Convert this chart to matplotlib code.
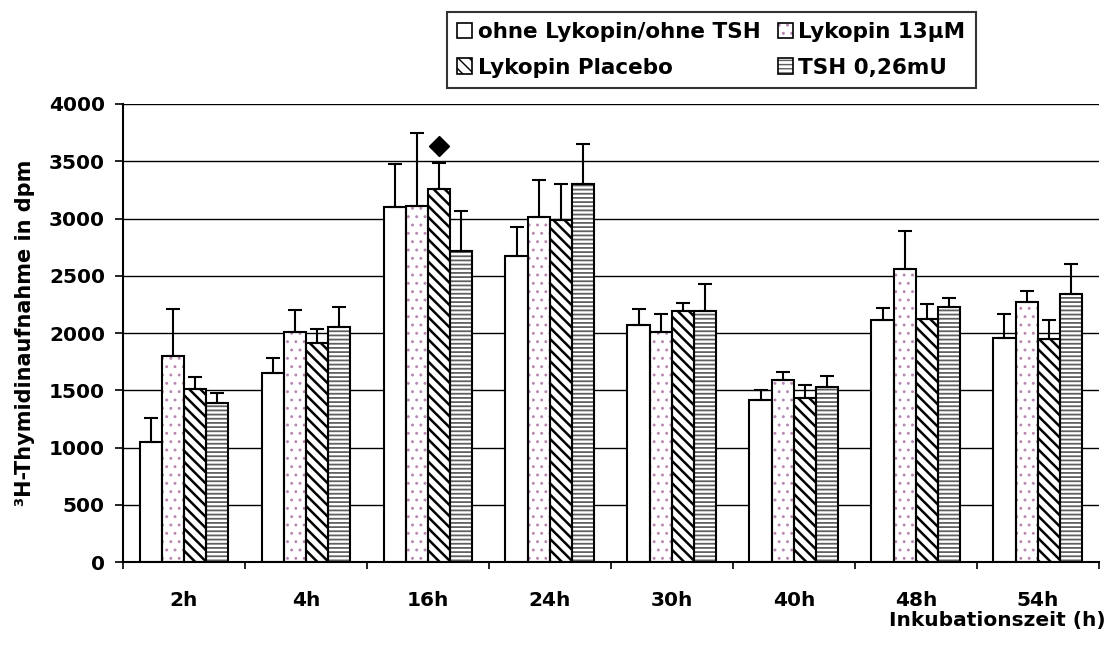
#!/usr/bin/env python3

import numpy as np
import matplotlib as mpl
from matplotlib import pyplot as plt
from matplotlib.patches import Patch
from matplotlib.legend_handler import HandlerTuple

plt.rcParams['font.family'] = ['DejaVu Sans']
plt.rcParams['font.weight'] = 'bold'
plt.rcParams['axes.labelweight'] = 'bold'

times = ['2h', '4h', '16h', '24h', '30h', '40h', '48h', '54h']
labels = ['ohne Lykopin/ohne TSH', 'Lykopin 13µM',
          'Lykopin Placebo', 'TSH 0,26mU']

# mean values (dpm)
ohne = [1050, 1650, 3100, 2670, 2070, 1415, 2110, 1960]
lyk13 = [1800, 2005, 3110, 3010, 2010, 1592, 2560, 2270]
placebo = [1512, 1912, 3260, 2990, 2190, 1430, 2120, 1950]
tsh = [1390, 2050, 2716, 3300, 2190, 1525, 2230, 2340]

# upper end of the error bars
ohne_err = [1258, 1779, 3472, 2930, 2210, 1500, 2220, 2170]
lyk13_err = [2210, 2198, 3750, 3340, 2170, 1656, 2890, 2370]
placebo_err = [1614, 2035, 3486, 3300, 2260, 1545, 2250, 2110]
tsh_err = [1478, 2227, 3068, 3650, 2430, 1622, 2310, 2600]

marker_pos = (2, 3633)  # significance mark above 16h placebo

# values, error tops, hatch, hatch colour, hatch line width
series = [
    (ohne, ohne_err, None, 'white', 1.0),
    (lyk13, lyk13_err, '..', '#b888b0', 0.9),
    (placebo, placebo_err, '\\\\\\', 'black', 1.8),
    (tsh, tsh_err, '----', '#606060', 1.3),
]

fig = plt.figure(figsize=(11.11, 6.52), dpi=100)
ax = fig.add_axes([0.1107, 0.138, 0.8783, 0.7025])

x = np.arange(len(times))
width = 0.182
handles = []
for i, (vals, top, hatch, hcol, hlw) in enumerate(series):
    pos = x + (i - 1.5) * width
    vals = np.array(vals)
    with mpl.rc_context({'hatch.linewidth': hlw}):
        ax.bar(pos, vals, width, color='white',
               edgecolor=hcol if hatch else 'white',
               hatch=hatch, linewidth=0, zorder=2)
        fill = Patch(facecolor='white', edgecolor=hcol if hatch else 'white',
                     hatch=hatch, linewidth=0)
    ax.bar(pos, vals, width, facecolor='none', edgecolor='black',
           linewidth=1.5, zorder=3)
    ax.errorbar(pos, vals, yerr=[np.zeros_like(vals), np.array(top) - vals],
                fmt='none', ecolor='black', elinewidth=1.5, capsize=5,
                capthick=1.5, zorder=4)

    # legend key: pattern patch under a black outline
    outline = Patch(facecolor='none', edgecolor='black', linewidth=1.2)
    handles.append((fill, outline))

ax.plot(marker_pos[0] + 0.5 * width, marker_pos[1], marker='D',
        color='black', markersize=10, zorder=5)

order = [0, 2, 1, 3]
leg = fig.legend([handles[k] for k in order], [labels[k] for k in order],
                 handler_map={tuple: HandlerTuple(ndivide=1, pad=0)},
                 ncol=2, loc='upper left', bbox_to_anchor=(0.402, 0.982),
                 frameon=True, fancybox=False, edgecolor='black',
                 fontsize=15.5, handlelength=0.7, handleheight=0.7,
                 handletextpad=0.25, columnspacing=0.8, borderpad=0.5,
                 labelspacing=0.7, borderaxespad=0)
leg.get_frame().set_linewidth(1.5)

ax.set_ylim(0, 4000)
ax.set_yticks(np.arange(0, 4001, 500))
ax.yaxis.grid(True, color='black', linewidth=1.0, zorder=0)
ax.set_axisbelow(True)
ax.tick_params(axis='y', labelsize=14.5, length=6, width=1.2, pad=7)

ax.set_xlim(-0.5, len(times) - 0.5)
ax.set_xticks(np.arange(len(times) + 1) - 0.5)
ax.set_xticklabels([])
ax.set_xticks(x, minor=True)
ax.set_xticklabels(times, minor=True, fontsize=14.5)
ax.tick_params(axis='x', which='major', length=5, width=1.2)
ax.tick_params(axis='x', which='minor', length=0, pad=21)

for side in ['top', 'right']:
    ax.spines[side].set_visible(False)
for side in ['left', 'bottom']:
    ax.spines[side].set_linewidth(1.5)

ax.set_ylabel('³H-Thymidinaufnahme in dpm', fontsize=15, labelpad=10)
fig.text(0.995, 0.04, 'Inkubationszeit (h)', ha='right', va='baseline',
         fontsize=14.5, fontweight='bold')

plt.savefig('out.png')
